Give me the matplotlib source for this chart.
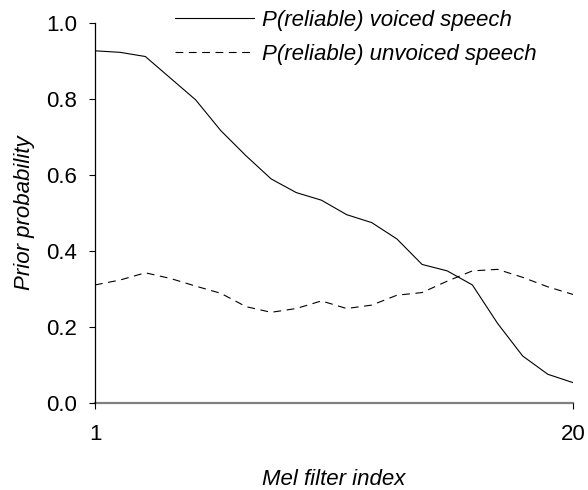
import numpy as np
import matplotlib
matplotlib.use("Agg")
import matplotlib.pyplot as plt

plt.rcParams['font.family'] = ['Liberation Sans', 'DejaVu Sans']

# Mel filter index 1..20
mel_index = np.arange(1, 21)
voiced = [0.926, 0.922, 0.911, 0.854, 0.797, 0.716, 0.650, 0.589, 0.553, 0.533,
          0.495, 0.474, 0.431, 0.364, 0.347, 0.310, 0.209, 0.123, 0.075, 0.053]
unvoiced = [0.310, 0.323, 0.342, 0.327, 0.307, 0.288, 0.253, 0.238, 0.248, 0.268,
            0.248, 0.257, 0.283, 0.290, 0.320, 0.347, 0.351, 0.330, 0.305, 0.285]
y_ticks = [0.0, 0.2, 0.4, 0.6, 0.8, 1.0]
x_ticks = [1, 20]

FS = 16

fig = plt.figure(figsize=(5.88, 4.9), dpi=100)
ax = fig.add_axes([0.1616, 0.178, 0.8129, 0.7757])

ax.plot(mel_index, voiced, color='black', lw=0.8, label='P(reliable) voiced speech')
ax.plot(mel_index, unvoiced, color='black', lw=0.8, linestyle=(0, (7, 5)),
        label='P(reliable) unvoiced speech')

ax.set_xlim(1, 20)
ax.set_ylim(0, 1.0)
ax.set_xticks(x_ticks)
ax.set_yticks(y_ticks)
ax.set_yticklabels([f"{v:.1f}" for v in y_ticks])
ax.tick_params(axis='both', labelsize=FS, length=4, width=0.8, direction='out')
ax.tick_params(axis='x', pad=11)
ax.tick_params(axis='y', pad=9)

for s in ['top', 'right']:
    ax.spines[s].set_visible(False)
ax.spines['left'].set_linewidth(0.9)
ax.spines['bottom'].set_color('#808080')
ax.spines['bottom'].set_linewidth(1.6)
ax.spines['bottom'].set_zorder(0)

ax.set_xlabel('Mel filter index', fontsize=FS, style='italic', labelpad=17.5)
ax.set_ylabel('Prior probability', fontsize=FS, style='italic', labelpad=8)

fig.legend(loc='upper left', bbox_to_anchor=(175 / 588, 1 - 10 / 490),
           frameon=False, prop={'style': 'italic', 'size': FS},
           handlelength=3.55, handletextpad=0.36, labelspacing=0.57,
           borderpad=0, borderaxespad=0)

fig.savefig('out.png', dpi=100)
